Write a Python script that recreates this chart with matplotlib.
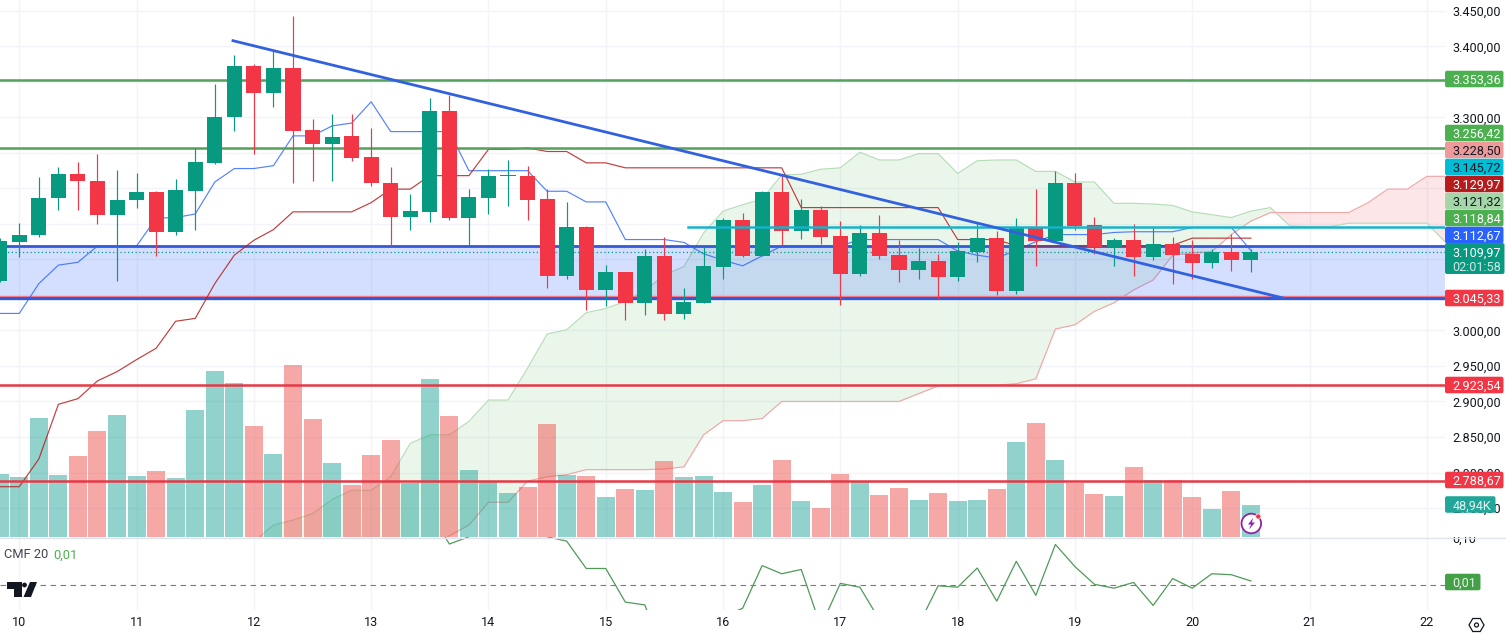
import matplotlib
matplotlib.use("Agg")
import matplotlib.pyplot as plt
import numpy as np
from matplotlib.patches import Rectangle, FancyBboxPatch, Polygon, Circle, RegularPolygon

plt.rcParams['font.family'] = ['Roboto', 'DejaVu Sans']

# ---------- data (4h candles, index 0 = day 10 00:00, first bar index -1) ----------
opens = [3070,3125,3134,3186,3220,3211,3163,3183,3195,3139,3197,3236,3300,3373,3335,3370,3282,3262,3274,3244,3208,3160,3167,3309,3158,3187,
         3217,3218,3185,3077,3146,3057,3082,3039,3105,3023,3039,3089,3156,3105,3195,3140,3170,3133,3080,3137,3106,3085,3098,3075,3111,3130,
         3056,3144,3126,3208,3149,3118,3127,3104,3122,3108,3095,3111,3099]
highs = [3130,3151,3216,3230,3237,3249,3226,3222,3197,3213,3257,3347,3388,3375,3393,3443,3298,3305,3305,3285,3230,3192,3328,3332,3199,3228,
         3240,3232,3199,3181,3147,3092,3083,3115,3131,3060,3118,3158,3165,3196,3219,3185,3175,3154,3149,3163,3127,3116,3108,3125,3151,3140,
         3158,3199,3225,3222,3160,3130,3150,3146,3132,3127,3115,3136,3115]
lows = [3068,3104,3131,3170,3169,3150,3070,3172,3105,3134,3141,3235,3281,3249,3315,3208,3210,3210,3239,3203,3119,3142,3153,3156,3119,3164,
        3175,3156,3060,3072,3029,3035,3015,3022,3015,3016,3039,3073,3103,3105,3120,3129,3122,3036,3077,3101,3068,3073,3044,3070,3096,3050,
        3052,3091,3126,3142,3108,3091,3077,3099,3065,3073,3088,3084,3082]
closes = [3126,3135,3186,3220,3210,3163,3184,3195,3139,3198,3237,3301,3373,3335,3370,3281,3262,3273,3243,3207,3160,3168,3309,3158,3188,3217,
          3218,3184,3077,3146,3057,3082,3039,3105,3023,3040,3091,3156,3105,3195,3140,3170,3132,3080,3137,3105,3085,3098,3075,3112,3130,3056,
          3146,3126,3208,3147,3118,3127,3104,3122,3106,3095,3111,3099,3109.97]
volumes = [97.8,93.1,186.2,96.3,126.2,165.7,190.9,94.7,102.6,91.5,198.8,260.4,241.4,173.6,129.4,269.8,184.6,115.2,80.5,127.8,151.5,83.6,247.7,189.4,104.1,85.2,
           67.9,77.3,176.7,96.3,94.7,61.5,74.2,72.6,118.4,93.1,94.7,69.4,53.7,80.5,119.9,55.2,44.2,97.8,85.2,64.7,75.7,56.8,67.9,55.2,56.8,74.2,
           148.3,178.3,119.9,83.6,66.3,63.1,108.9,88.4,88.4,61.5,42.6,71,48.94]
tenkan = [3024,3024,3066,3092,3096,3119,3119,3119,3158,3159,3164,3209,3228,3228,3232,3274,3274,3288,3292,3322,3280,3280,3280,3280,3225,3225,
          3225,3225,3196,3196,3181,3181,3128,3128,3128,3124,3108,3099,3091,3105,3119,3119,3119,3119,3128,3128,3128,3128,3128,3112,3106,3102,
          3113,3125,3135,3135,3135,3138,3139,3139,3139,3145,3145,3145,3112.67]
kijun = [2780,2780,2819,2896,2904,2929,2942,2959,2975,3013,3017,3066,3106,3127,3142,3167,3167,3167,3167,3180,3199,3199,3218,3218,3218,3255,
         3255,3257,3252,3252,3236,3236,3229,3229,3229,3229,3229,3229,3229,3229,3229,3173,3173,3173,3173,3173,3173,3173,3173,3128,3128,3128,
         3119,3119,3119,3119,3119,3119,3119,3119,3120,3129.97,3129.97,3129.97,3129.97]
span_start = 12
span_a = [2703,2726,2733,2742,2762,2775,2775,2794,2841,2853,2853,2872,2902,2902,2947,2995,3001,3025,3031,3041,3056,3078,3090,3137,3168,3177,
          3185,3219,3220,3227,3229,3251,3240,3240,3249,3249,3221,3239,3240,3240,3224,3224,3209,3209,3179,3179,3178,3176,3167,3163,3159,3168,
          3173,3147,3146,3146,3151,3151,3151,3151,3151,3123]
span_b = [2650,2650,2655,2660,2660,2665,2670,2675,2680,2690,2711,2726,2758,2758,2788,2794,2797,2804,2804,2804,2804,2805,2808,2853,2873,2873,
          2876,2900,2900,2900,2900,2900,2900,2900,2911,2922,2923,2923,2923,2925,2932,3002,3008,3027,3039,3057,3071,3106,3109,3111,3135,3154,
          3166,3166,3166,3166,3166,3180,3199,3199,3217,3217]
cmf_start = 21
cmf = [.153,.086,.101,.178,.233,.199,.101,.092,.035,.035,-.035,-.041,-.149,-.17,-.13,-.065,-.048,.041,.024,.033,-.086,.004,-.004,-.072,-.093,-.083,
       -.001,-.004,.036,-.033,.05,-.021,.085,.039,.002,-.006,.006,-.042,.014,-.006,.024,.022,.009]
green_levels = [3353.36, 3256.42]
red_levels = [2923.54, 2788.67]
zone = [3045.33, 3118.84]
cyan_level = 3145.72
cyan_start = 34.2
trend_x = [10.93, 64.7]
trend_y = [3408, 3045.33]
last_price = 3109.97
price_ticks = list(range(2750, 3451, 50))
hidden_ticks = [3350, 3250, 3200, 3150, 3100]   # fully covered by value badges in the source
day_ticks = list(range(0, 73, 6))
day_labels = [str(d) for d in range(10, 23)]
badges = [("3.353,36", 79, "#4caf50", "white"), ("3.256,42", 133, "#4caf50", "white"),
          ("3.228,50", 150, "#ef9a9a", "#131722"), ("3.145,72", 167, "#00bcd4", "#131722"),
          ("3.129,97", 184, "#b71c1c", "white"), ("3.121,32", 201, "#a5d6a7", "#131722"),
          ("3.118,84", 218, "#4caf50", "white"), ("3.112,67", 235, "#2962ff", "white"),
          ("3.045,33", 298, "#f23645", "white"), ("2.923,54", 385, "#f23645", "white"),
          ("2.788,67", 480, "#f23645", "white")]

# ---------- layout ----------
W, H = 1506, 635
PANE_R, PANE_B, CMF_B = 1445, 537, 610
FS = 9.1
fig = plt.figure(figsize=(W / 100, H / 100), dpi=100, facecolor="white")
def box(l, t, r, b):
    return [l / W, 1 - b / H, (r - l) / W, (b - t) / H]

XLIM = (-0.987, 72.93)
YLIM = (2709.2, 3465.3)
GRID = "#f2f4f9"
RED, GREEN = "#f23645", "#089981"
n = len(opens)
idx = np.arange(-1, n - 1)

def fmt(p):
    return "" if p in hidden_ticks else f"{p:,.2f}".replace(",", "_").replace(".", ",").replace("_", ".")

# base layer: grid and Ichimoku, seen through the volume bars
ax = fig.add_axes(box(0, 0, PANE_R, PANE_B), zorder=1)
ax.set_xlim(XLIM); ax.set_ylim(YLIM)
ax.set_xticks(day_ticks); ax.set_yticks(price_ticks)
ax.tick_params(length=0, labelleft=False, labelbottom=False)
ax.grid(True, color=GRID, lw=1); ax.set_axisbelow(True)
for s in ax.spines.values(): s.set_visible(False)
sx = np.arange(span_start, span_start + len(span_a))
A, B = np.array(span_a, float), np.array(span_b, float)
ax.fill_between(sx, A, B, where=A >= B, interpolate=True, color="#4caf50", alpha=.11, lw=0)
ax.fill_between(sx, A, B, where=A <= B, interpolate=True, color="#f23645", alpha=.12, lw=0)
ax.plot(sx, A, color="#b7dcb8", lw=.85)
ax.plot(sx, B, color="#f0a8a8", lw=.85)

# volume layer
axv = fig.add_axes(box(0, 0, PANE_R, PANE_B - .5), zorder=2)
axv.patch.set_alpha(0)
axv.set_xlim(XLIM); axv.set_ylim(0, 846); axv.axis("off")
vc = ["#26a69a" if c >= o else "#ef5350" for o, c in zip(opens, closes)]
axv.bar(idx, volumes, width=.92, color=vc, alpha=.5, lw=0)

# top layer: drawings, lines and candles
axt = fig.add_axes(box(0, 0, PANE_R, PANE_B), zorder=3)
axt.patch.set_alpha(0)
axt.set_xlim(XLIM); axt.set_ylim(YLIM)
for s in axt.spines.values(): s.set_visible(False)
axt.set_xticks([])
axt.yaxis.tick_right()
axt.set_yticks(price_ticks)
axt.set_yticklabels([fmt(p) for p in price_ticks], fontsize=FS, color="#131722")
axt.tick_params(axis="y", length=0, pad=5.5)

axt.axhspan(zone[0], zone[1], color="#2962ff", alpha=.2, lw=0, zorder=1)
axt.axhline(zone[1], color="#3359d6", lw=2, zorder=2)
axt.axhline(zone[0], color="#3359d6", lw=2.4, zorder=2)
axt.axhline(zone[0] + 3.2, color="#f2788a", lw=.8, zorder=2)
axt.plot(idx, tenkan, color="#2962ff", lw=.85, alpha=.8, zorder=3)
axt.plot(idx, kijun, color="#b71c1c", lw=.85, alpha=.85, zorder=3)
axt.axhline(last_price, color=GREEN, lw=.9, ls=(0, (1, 2)), zorder=3)
for lv in green_levels:
    axt.axhline(lv, color="#55a05b", lw=1.8, zorder=3)
for lv in red_levels:
    axt.axhline(lv, color="#e63946", lw=1.8, zorder=6)
cols = [GREEN if c >= o else RED for o, c in zip(opens, closes)]
axt.vlines(idx, lows, highs, colors=cols, lw=.85, zorder=4)
bot = np.minimum(opens, closes); top = np.maximum(opens, closes)
axt.bar(idx, np.maximum(top - bot, 1.2), bottom=bot, width=.77, color=cols, lw=0, zorder=5)
axt.plot([cyan_start, XLIM[1]], [cyan_level, cyan_level], color="#16b3c9", lw=1.8, zorder=6)
axt.plot(trend_x, trend_y, color="#3261e0", lw=2, zorder=6)

# CMF pane
axc = fig.add_axes(box(0, PANE_B, PANE_R, CMF_B), zorder=1)
axc.set_xlim(XLIM); axc.set_ylim(-.0515, .1006)
for s in axc.spines.values(): s.set_visible(False)
axc.set_xticks(day_ticks); axc.set_xticklabels(day_labels, fontsize=FS, color="#131722")
axc.yaxis.tick_right()
axc.set_yticks([.10]); axc.set_yticklabels(["0,10"], fontsize=FS, color="#131722")
axc.tick_params(length=0); axc.tick_params(axis="x", pad=4.5); axc.tick_params(axis="y", pad=5.5)
axc.grid(True, axis="x", color=GRID, lw=1); axc.set_axisbelow(True)
axc.axhline(0, color="#787b86", lw=.8, ls=(0, (5, 4)))
axc.plot(np.arange(cmf_start, cmf_start + len(cmf)), cmf, color="#4f9a58", lw=.9)

# annotation layer, in figure pixels
axp = fig.add_axes([0, 0, 1, 1], zorder=10)
axp.patch.set_alpha(0)
axp.set_xlim(0, W); axp.set_ylim(H, 0); axp.axis("off")
axp.add_patch(Rectangle((PANE_R + 1, 526), W - PANE_R, 11, fc="white", ec="none", zorder=1))
axp.plot([0, W], [PANE_B + .5, PANE_B + .5], color="#e0e3eb", lw=1, zorder=1)

def badge(label, yc, fc, tc, right=1503.5, h=16.6, fs=FS):
    axp.add_patch(FancyBboxPatch((PANE_R + 1, yc - h / 2 + 1), right - PANE_R - 2, h - 2,
                                 boxstyle="round,pad=0,rounding_size=1", mutation_aspect=1,
                                 fc=fc, ec=fc, lw=1.4, zorder=3))
    axp.text(PANE_R + 7.5, yc, label, color=tc, fontsize=fs, va="center_baseline", ha="left", zorder=4)

for t, y, fc, tc in badges:
    badge(t, y, fc, tc)
# current price badge, two lines
axp.add_patch(FancyBboxPatch((PANE_R + 1, 244), 57.5, 29, boxstyle="round,pad=0,rounding_size=1",
                             fc=GREEN, ec=GREEN, lw=1.4, zorder=3))
axp.text(PANE_R + 7.5, 252, "3.109,97", color="white", fontsize=FS, va="center_baseline", zorder=4)
axp.text(PANE_R + 7.5, 266, "02:01:58", color="#cde9e3", fontsize=FS, va="center_baseline", zorder=4)
badge("48,94K", 504.5, "#22a699", "#e6f5f3", right=1495.5)
badge("0,01", 582, "#43a047", "#e8f5e9", right=1480.5)

axp.text(4, 553.5, "CMF 20", color="#434651", fontsize=9.3, va="center_baseline")
axp.text(53, 553.5, "0,01", color="#4caf50", fontsize=9.3, va="center_baseline")

# TradingView logo
LOGO = "#131722"
axp.add_patch(Polygon([(7, 582), (22, 582), (22, 597), (14, 597), (14, 589), (7, 589)], fc=LOGO, ec="none"))
axp.add_patch(Circle((24.5, 585), 2.4, fc=LOGO, ec="none"))
axp.add_patch(Polygon([(30, 582), (37, 582), (31, 597), (23.5, 597)], fc=LOGO, ec="none"))

# lightning marker
axp.add_patch(Circle((1251.3, 523.5), 9.8, fc="white", ec="#8e24aa", lw=1.3, zorder=5))
axp.add_patch(Polygon([(1253, 518), (1248, 524.5), (1251, 524.5), (1249, 529.5), (1255, 522.5), (1252, 522.5)],
                      fc="#8e24aa", ec="none", zorder=6))
axp.add_patch(Circle((1258.3, 516.5), 2.6, fc="#f23645", ec="white", lw=.5, zorder=7))

# settings icon
axp.add_patch(RegularPolygon((1476.5, 625), 6, radius=7.5, orientation=np.pi / 6, fc="none", ec="#131722", lw=.9))
axp.add_patch(Circle((1476.5, 625), 2, fc="none", ec="#131722", lw=.9))

fig.savefig("out.png", dpi=100)
